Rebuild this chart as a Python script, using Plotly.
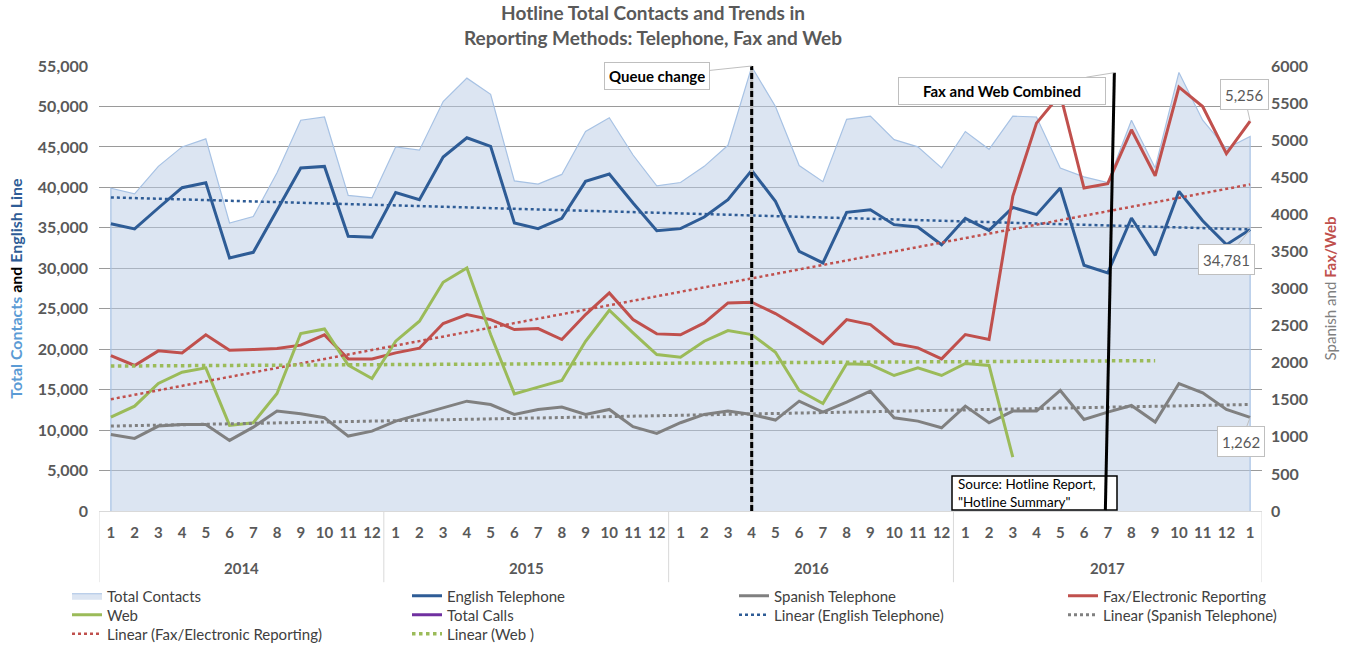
import numpy as np
import plotly.graph_objects as go

# ---------------- data ----------------
years = ["2014", "2015", "2016", "2017"]
year_counts = [12, 12, 12, 13]          # last group also holds Jan of the following year
months = [1, 2, 3, 4, 5, 6, 7, 8, 9, 10, 11, 12,
          1, 2, 3, 4, 5, 6, 7, 8, 9, 10, 11, 12,
          1, 2, 3, 4, 5, 6, 7, 8, 9, 10, 11, 12,
          1, 2, 3, 4, 5, 6, 7, 8, 9, 10, 11, 12,
          1]

total_contacts = [39900, 39200, 42600, 45000, 46000, 35600, 36400, 41800, 48300, 48700, 39000, 38700,
                  45000, 44600, 50600, 53500, 51500, 40800, 40400, 41600, 46900, 48600, 44000, 40200,
                  40600, 42600, 45200, 54900, 50000, 42700, 40700, 48400, 48800, 45900, 45000, 42400,
                  46900, 44700, 48800, 48700, 42400, 41300, 40600, 48300, 42400, 54200, 48300, 44800,
                  46300]
english_tel = [35500, 34860, 37450, 39960, 40580, 31280, 31970, 37160, 42390, 42590, 33950, 33830,
               39350, 38480, 43750, 46130, 45060, 35600, 34900, 36170, 40740, 41650, 38070, 34650,
               34900, 36340, 38480, 42100, 38270, 32100, 30660, 36910, 37240, 35390, 35100, 32920,
               36170, 34690, 37530, 36630, 39920, 30370, 29420, 36210, 31600, 39510, 35880, 32920,
               34781]
spanish_tel = [1032, 979, 1145, 1167, 1167, 952, 1131, 1347, 1311, 1257, 1010, 1077,
               1212, 1302, 1401, 1481, 1436, 1302, 1369, 1401, 1302, 1369, 1136, 1046,
               1190, 1302, 1347, 1302, 1226, 1481, 1333, 1468, 1616, 1257, 1212, 1122,
               1414, 1190, 1347, 1347, 1625, 1234, 1333, 1423, 1199, 1719, 1594, 1369,
               1262]
fax_electronic = [2096, 1962, 2159, 2132, 2375, 2168, 2177, 2191, 2236, 2375, 2051, 2051,
                  2132, 2195, 2527, 2649, 2581, 2447, 2460, 2312, 2649, 2940, 2581, 2388,
                  2375, 2536, 2806, 2815, 2662, 2469, 2258, 2581, 2514, 2258, 2200, 2051,
                  2379, 2312, 4242, 5230, 5620, 4354, 4413, 5140, 4520, 5714, 5454, 4817,
                  5256]
web = [1266, 1414, 1719, 1872, 1930, 1154, 1190, 1585, 2393, 2455, 1966, 1787,
       2290, 2559, 3084, 3277, 2379, 1580, 1670, 1760, 2289, 2707, 2402, 2110,
       2074, 2289, 2433, 2379, 2141, 1625, 1450, 1984, 1975, 1827, 1930, 1827,
       1989, 1962, 727]
web_trend_forward = 6          # periods the Web trendline is projected forward

queue_change = ("2016", 4)
fax_web_combined = ("2017", 7)
source_text = 'Source: Hotline Report,<br>"Hotline Summary"'

# ---------------- helpers ----------------
year_of = []
for yname, cnt in zip(years, year_counts):
    year_of += [yname] * cnt
idx = np.arange(len(months))


def cat_index(key):
    for i, (yy, mm) in enumerate(zip(year_of, months)):
        if yy == key[0] and mm == key[1]:
            return i


def linear_fit(y, extra=0):
    x = np.arange(len(y))
    a, b = np.polyfit(x, y, 1)
    xx = np.arange(len(y) + extra)
    return xx, a * xx + b


FONT = "Lato"
GRAY = "#595959"
C_TOTAL_FILL = "rgba(186,203,230,0.50)"
C_TOTAL_LINE = "#A7C2E4"
C_EN = "#2E5C96"
C_SP = "#808080"
C_FAX = "#C0504D"
C_WEB = "#9BBB59"
C_CALLS = "#7030A0"

fig = go.Figure()

W, H = 1353, 647
L, R, T, B = 99, 91, 66, 136
PW, PH = W - L - R, H - T - B

# legend slots: text-start pixel column, row centre
col_px = [67, 407, 734, 1063]
row_px = [596, 615, 634]
legend_slots = {
    "Total Contacts": (0, 0), "English Telephone": (1, 0), "Spanish Telephone": (2, 0),
    "Fax/Electronic Reporting": (3, 0), "Web": (0, 1), "Total Calls": (1, 1),
    "Linear (English Telephone)": (2, 1), "Linear (Spanish Telephone)": (3, 1),
    "Linear (Fax/Electronic Reporting)": (0, 2), "Linear (Web )": (1, 2),
}
legend_ids = {}
legend_layout = {}
for k, (name, (c, r)) in enumerate(legend_slots.items()):
    lid = "legend" if k == 0 else f"legend{k + 1}"
    legend_ids[name] = lid
    legend_layout[lid] = dict(
        x=(col_px[c] - L) / PW, y=(T + PH - row_px[r]) / PH,
        xanchor="left", yanchor="middle", orientation="v",
        bgcolor="rgba(0,0,0,0)", font=dict(family=FONT, size=15, color="#404040"),
        itemwidth=30, tracegroupgap=0,
    )

# total contacts area (closed polygon so its side edges show like the original)
area_x = np.concatenate([[idx[0]], idx, [idx[-1]]])
area_y = np.concatenate([[0], total_contacts, [0]])
fig.add_trace(go.Scatter(x=area_x, y=area_y, name="Total Contacts", mode="lines",
                         fill="toself", fillcolor=C_TOTAL_FILL,
                         line=dict(color=C_TOTAL_LINE, width=1.2),
                         legend=legend_ids["Total Contacts"]))
fig.add_trace(go.Scatter(x=idx, y=english_tel, name="English Telephone", mode="lines",
                         line=dict(color=C_EN, width=3), legend=legend_ids["English Telephone"]))
xx, yy = linear_fit(english_tel)
fig.add_trace(go.Scatter(x=xx, y=yy, name="Linear (English Telephone)", mode="lines",
                         line=dict(color=C_EN, width=2.5, dash="dot"),
                         legend=legend_ids["Linear (English Telephone)"]))
fig.add_trace(go.Scatter(x=[None], y=[None], name="Total Calls", mode="lines",
                         line=dict(color=C_CALLS, width=3), legend=legend_ids["Total Calls"]))

# right axis series
fig.add_trace(go.Scatter(x=idx, y=spanish_tel, name="Spanish Telephone", mode="lines", yaxis="y2",
                         line=dict(color=C_SP, width=3), legend=legend_ids["Spanish Telephone"]))
fig.add_trace(go.Scatter(x=idx, y=fax_electronic, name="Fax/Electronic Reporting", mode="lines",
                         yaxis="y2", line=dict(color=C_FAX, width=3),
                         legend=legend_ids["Fax/Electronic Reporting"]))
fig.add_trace(go.Scatter(x=np.arange(len(web)), y=web, name="Web", mode="lines", yaxis="y2",
                         line=dict(color=C_WEB, width=3), legend=legend_ids["Web"]))
xx, yy = linear_fit(spanish_tel)
fig.add_trace(go.Scatter(x=xx, y=yy, name="Linear (Spanish Telephone)", mode="lines", yaxis="y2",
                         line=dict(color=C_SP, width=3, dash="dot"),
                         legend=legend_ids["Linear (Spanish Telephone)"]))
xx, yy = linear_fit(fax_electronic)
fig.add_trace(go.Scatter(x=xx, y=yy, name="Linear (Fax/Electronic Reporting)", mode="lines",
                         yaxis="y2", line=dict(color=C_FAX, width=2.5, dash="dot"),
                         legend=legend_ids["Linear (Fax/Electronic Reporting)"]))
xx, yy = linear_fit(web, web_trend_forward)
fig.add_trace(go.Scatter(x=xx, y=yy, name="Linear (Web )", mode="lines", yaxis="y2",
                         line=dict(color=C_WEB, width=3.5, dash="dot"),
                         legend=legend_ids["Linear (Web )"]))

# ---------------- shapes ----------------
shapes = []
edges = np.cumsum([0] + year_counts) - 0.5
for e in edges:
    shapes.append(dict(type="line", xref="x", yref="paper", x0=e, x1=e, y0=0, y1=-0.16,
                       line=dict(color="#D9D9D9", width=1)))
qi = cat_index(queue_change)
shapes.append(dict(type="line", xref="x", yref="paper", x0=qi, x1=qi, y0=0, y1=1,
                   line=dict(color="#BBBBBB", width=3)))
shapes.append(dict(type="line", xref="x", yref="paper", x0=qi, x1=qi, y0=0, y1=1,
                   line=dict(color="black", width=3, dash="6px,3px")))
sx0, sx1 = (952 - L) / PW, (1117 - L) / PW
sy0, sy1 = (T + PH - 510) / PH, (T + PH - 476) / PH
shapes.append(dict(type="rect", xref="paper", yref="paper", x0=sx0, x1=sx1, y0=sy0, y1=sy1,
                   fillcolor="white", line=dict(color="black", width=1.5)))
ci = cat_index(fax_web_combined)
shapes.append(dict(type="line", xref="x", yref="paper", x0=ci + 0.28, x1=ci - 0.1,
                   y0=0.985, y1=0.002, line=dict(color="black", width=3)))

# ---------------- annotations ----------------
ann = []
starts = np.cumsum([0] + year_counts[:-1])
for yname, s, cnt in zip(years, starts, year_counts):
    ann.append(dict(x=s + (cnt - 1) / 2, y=-(568 - (T + PH)) / PH, xref="x", yref="paper",
                    text=f"<b>{yname}</b>", showarrow=False, xanchor="center", yanchor="middle",
                    font=dict(family=FONT, size=15, color=GRAY)))
ann.append(dict(x=qi, y=1, xref="x", yref="paper", text="<b>Queue change</b>",
                showarrow=True, arrowhead=0, arrowcolor="#BFBFBF", arrowwidth=1,
                ax=-95, ay=10, height=18, bgcolor="white", bordercolor="#BFBFBF", borderwidth=1,
                borderpad=4, font=dict(family=FONT, size=15, color="black")))
ann.append(dict(x=ci + 0.28, y=0.985, xref="x", yref="paper", text="<b>Fax and Web Combined</b>",
                showarrow=True, arrowhead=0, arrowcolor="#BFBFBF", arrowwidth=1,
                ax=-112, ay=18, width=200, height=20, bgcolor="white", bordercolor="#BFBFBF",
                borderwidth=1, borderpad=3, font=dict(family=FONT, size=15, color="black")))
last = len(months) - 1
lab = dict(showarrow=True, arrowhead=0, arrowcolor="#BFBFBF", bgcolor="white",
           bordercolor="#BFBFBF", borderwidth=1, borderpad=4, height=21,
           font=dict(family=FONT, size=15, color=GRAY))
ann.append(dict(x=last, y=fax_electronic[-1], xref="x", yref="y2", text=f"{fax_electronic[-1]:,}",
                ax=-6, ay=-27, **lab))
ann.append(dict(x=last, y=english_tel[-1], xref="x", yref="y", text=f"{english_tel[-1]:,}",
                ax=-24, ay=30, **lab))
ann.append(dict(x=last, y=spanish_tel[-1], xref="x", yref="y2", text=f"{spanish_tel[-1]:,}",
                ax=-9, ay=24, **lab))
ann.append(dict(x=(956 - L) / PW, y=(sy0 + sy1) / 2, xref="paper", yref="paper", text=source_text,
                showarrow=False, xanchor="left", yanchor="middle", align="left",
                font=dict(family=FONT, size=13.5, color="black")))

fig.update_layout(
    width=W, height=H,
    margin=dict(l=L, r=R, t=T, b=B, autoexpand=False),
    paper_bgcolor="white", plot_bgcolor="white",
    title=dict(text="<b>Hotline Total Contacts and Trends in<br>Reporting Methods: Telephone, Fax and Web</b>",
               x=653 / W, xanchor="center", xref="container",
               y=1 - 20 / H, yanchor="top", yref="container",
               font=dict(family=FONT, size=19, color=GRAY)),
    xaxis=dict(range=[-0.5, len(months) - 0.5], tickmode="array", tickvals=list(idx),
               ticktext=[str(m) for m in months], showgrid=False, zeroline=False,
               showline=True, linecolor="#D9D9D9", ticks="", ticklabelstandoff=8,
               tickfont=dict(family=FONT, size=15, color=GRAY, weight="bold")),
    yaxis=dict(range=[0, 55000], dtick=5000, tickformat=",", showgrid=True,
               gridcolor="#9A9A9A", gridwidth=1, zeroline=False, showline=False,
               ticks="", ticklabelstandoff=10,
               tickfont=dict(family=FONT, size=16, color=GRAY, weight="bold"),
               title=dict(text="<b><span style='color:#5B9BD5'>Total Contacts</span> and "
                               "<span style='color:#2E5C96'>English Line</span></b>",
                          standoff=11, font=dict(family=FONT, size=16, color="black"))),
    yaxis2=dict(range=[0, 6000], dtick=500, overlaying="y", side="right", showgrid=False,
                zeroline=False, showline=False, ticks="", ticklabelstandoff=8,
                tickfont=dict(family=FONT, size=16, color=GRAY, weight="bold"),
                title=dict(text="Spanish and <span style='color:#C0504D'><b>Fax/Web</b></span>",
                           standoff=18, font=dict(family=FONT, size=15, color="#7F7F7F"))),
    shapes=shapes, annotations=ann, showlegend=True,
    **legend_layout,
)

fig.write_html("out.html", config={"displayModeBar": False},
               post_script="document.body.style.margin='0';")
